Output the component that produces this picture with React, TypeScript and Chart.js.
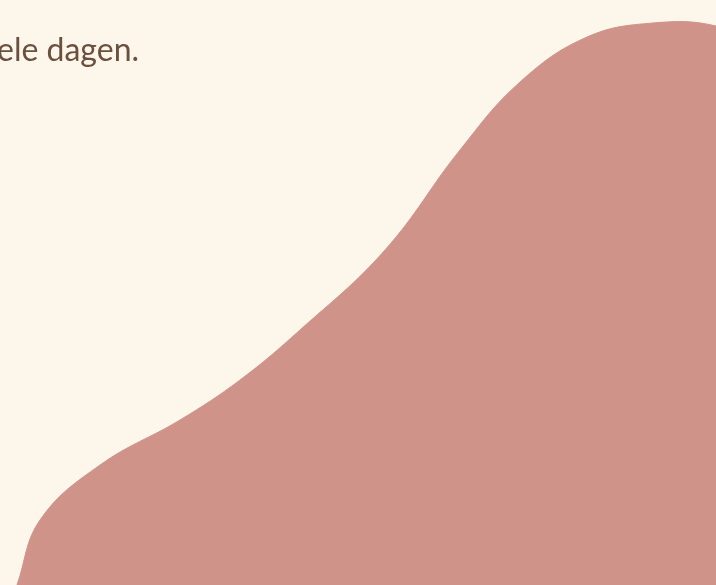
import React, { useEffect, useRef } from "react";
import { Chart, registerables } from "chart.js";

Chart.register(...registerables);

// Outline of the filled shape: horizontal position and height above the bottom edge
const xValues = [17, 40, 100, 180, 240, 300, 385, 460, 520, 587, 653, 716, 770];
const heights = [0, 65, 120, 165, 205, 255, 335, 435, 503, 548, 562, 559, 535];

const captionText = "ele dagen.";

const BG = "#FDF6EA";
const FILL = "#D0938A";
const TEXT = "#6B503F";

export default function App() {
  const canvasRef = useRef<HTMLCanvasElement | null>(null);

  useEffect(() => {
    const canvas = canvasRef.current;
    if (!canvas) return;
    const points = xValues.map((x, i) => ({ x, y: heights[i] }));
    const chart = new Chart(canvas, {
      type: "line",
      data: {
        datasets: [
          {
            data: points,
            backgroundColor: FILL,
            borderColor: FILL,
            borderWidth: 1,
            pointRadius: 0,
            fill: "origin",
            tension: 0.4,
          },
        ],
      },
      options: {
        animation: false,
        responsive: false,
        maintainAspectRatio: false,
        layout: { padding: 0 },
        plugins: {
          legend: { display: false },
          tooltip: { enabled: false },
          title: { display: false },
        },
        scales: {
          x: { type: "linear", min: 0, max: 716, display: false },
          y: { type: "linear", min: 0, max: 585, display: false },
        },
      },
    });
    return () => chart.destroy();
  }, []);

  return (
    <div
      style={{
        position: "fixed",
        left: 0,
        top: 0,
        width: 716,
        height: 585,
        overflow: "hidden",
        background: BG,
      }}
    >
      <canvas ref={canvasRef} width={716} height={585} style={{ position: "absolute", left: 0, top: 0 }} />
      <div
        style={{
          position: "absolute",
          left: -3,
          top: 33,
          fontFamily: "Lato, 'Open Sans', sans-serif",
          fontSize: 32,
          lineHeight: 1,
          color: TEXT,
          whiteSpace: "nowrap",
        }}
      >
        {captionText}
      </div>
    </div>
  );
}
